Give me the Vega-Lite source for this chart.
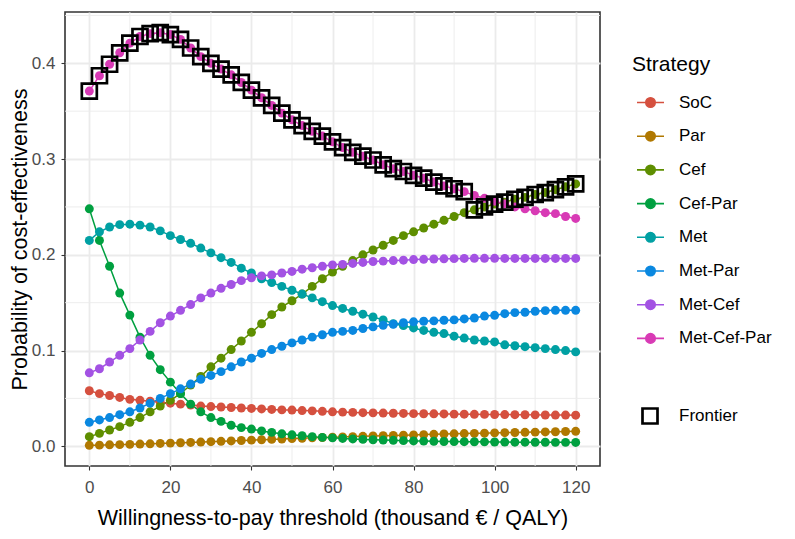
{
  "$schema": "https://vega.github.io/schema/vega-lite/v6.json",
  "width": 535,
  "height": 454,
  "autosize": {"type": "none"},
  "padding": {"left": 65, "top": 12, "right": 195, "bottom": 73},
  "background": "white",
  "config": {
    "font": "Liberation Sans",
    "view": {"stroke": "#333333", "strokeWidth": 1.6},
    "axis": {
      "domain": false,
      "grid": true,
      "gridColor": "#EBEBEB",
      "gridWidth": 1.8,
      "ticks": true,
      "tickColor": "#333333",
      "tickSize": 4,
      "tickWidth": 1.1,
      "labelColor": "#4D4D4D",
      "labelFontSize": 17,
      "labelPadding": 6,
      "titleFontSize": 21.5,
      "titleFontWeight": "normal",
      "titleColor": "black"
    },
    "axisX": {"labelPadding": 9, "titlePadding": 12},
    "axisY": {"titlePadding": 0},
    "legend": {
      "titleFontSize": 21,
      "titleFontWeight": "normal",
      "titleColor": "black",
      "labelFontSize": 17,
      "labelColor": "black",
      "padding": 0
    }
  },
  "datasets": {
    "minorX": [{"v": 10}, {"v": 30}, {"v": 50}, {"v": 70}, {"v": 90}, {"v": 110}],
    "minorY": [{"v": 0.05}, {"v": 0.15}, {"v": 0.25}, {"v": 0.35}, {"v": 0.45}],
    "ceac": [
      {"strategy": "SoC",
       "wtp": [0,2.5,5,7.5,10,12.5,15,17.5,20,22.5,25,27.5,30,32.5,35,37.5,40,42.5,45,47.5,50,52.5,55,57.5,60,62.5,65,67.5,70,72.5,75,77.5,80,82.5,85,87.5,90,92.5,95,97.5,100,102.5,105,107.5,110,112.5,115,117.5,120],
       "p": [0.058,0.055,0.053,0.051,0.049,0.048,0.047,0.046,0.045,0.044,
             0.043,0.042,0.0415,0.041,0.0405,0.040,0.0395,0.039,0.0385,0.038,
             0.0378,0.0373,0.037,0.0365,0.036,0.0357,0.0354,0.0351,0.0349,0.0347,
             0.0345,0.0343,0.0341,0.034,0.0339,0.0338,0.0336,0.0335,0.0334,0.0333,
             0.0332,0.0331,0.033,0.0329,0.0328,0.0327,0.0326,0.0326,0.0325]},
      {"strategy": "Par",
       "wtp": [0,2.5,5,7.5,10,12.5,15,17.5,20,22.5,25,27.5,30,32.5,35,37.5,40,42.5,45,47.5,50,52.5,55,57.5,60,62.5,65,67.5,70,72.5,75,77.5,80,82.5,85,87.5,90,92.5,95,97.5,100,102.5,105,107.5,110,112.5,115,117.5,120],
       "p": [0.001,0.0012,0.0015,0.0017,0.002,0.0023,0.0026,0.003,0.0033,0.0037,
             0.004,0.0044,0.0048,0.0052,0.0056,0.006,0.0064,0.0068,0.0072,0.0076,
             0.008,0.0084,0.0088,0.0091,0.0095,0.0098,0.0101,0.0104,0.0107,0.011,
             0.0113,0.0116,0.0119,0.0122,0.0125,0.0128,0.013,0.0133,0.0135,0.0137,
             0.014,0.0142,0.0144,0.0146,0.0148,0.015,0.0152,0.0154,0.0156]},
      {"strategy": "Cef",
       "wtp": [0,2.5,5,7.5,10,12.5,15,17.5,20,22.5,25,27.5,30,32.5,35,37.5,40,42.5,45,47.5,50,52.5,55,57.5,60,62.5,65,67.5,70,72.5,75,77.5,80,82.5,85,87.5,90,92.5,95,97.5,100,102.5,105,107.5,110,112.5,115,117.5,120],
       "p": [0.010,0.0135,0.017,0.0205,0.025,0.030,0.036,0.042,0.048,0.055,
             0.064,0.073,0.083,0.092,0.101,0.110,0.119,0.128,0.1375,0.1455,
             0.152,0.159,0.167,0.175,0.182,0.188,0.194,0.200,0.205,0.210,
             0.215,0.220,0.224,0.228,0.232,0.236,0.240,0.244,0.247,0.250,
             0.253,0.255,0.258,0.260,0.263,0.265,0.268,0.271,0.274]},
      {"strategy": "Cef-Par",
       "wtp": [0,2.5,5,7.5,10,12.5,15,17.5,20,22.5,25,27.5,30,32.5,35,37.5,40,42.5,45,47.5,50,52.5,55,57.5,60,62.5,65,67.5,70,72.5,75,77.5,80,82.5,85,87.5,90,92.5,95,97.5,100,102.5,105,107.5,110,112.5,115,117.5,120],
       "p": [0.248,0.215,0.188,0.160,0.137,0.114,0.095,0.080,0.067,0.055,
             0.044,0.036,0.030,0.026,0.022,0.0195,0.018,0.016,0.0145,0.013,
             0.012,0.011,0.010,0.0093,0.0088,0.0082,0.0077,0.0072,0.0068,0.0065,
             0.0062,0.0059,0.0056,0.0054,0.0052,0.005,0.0049,0.0048,0.0047,0.0046,
             0.0045,0.0044,0.0043,0.0043,0.0042,0.0042,0.0041,0.0041,0.004]},
      {"strategy": "Met",
       "wtp": [0,2.5,5,7.5,10,12.5,15,17.5,20,22.5,25,27.5,30,32.5,35,37.5,40,42.5,45,47.5,50,52.5,55,57.5,60,62.5,65,67.5,70,72.5,75,77.5,80,82.5,85,87.5,90,92.5,95,97.5,100,102.5,105,107.5,110,112.5,115,117.5,120],
       "p": [0.215,0.224,0.229,0.2315,0.232,0.231,0.229,0.225,0.220,0.216,
             0.212,0.207,0.202,0.197,0.192,0.186,0.181,0.175,0.171,0.167,
             0.163,0.159,0.155,0.151,0.147,0.144,0.141,0.138,0.135,0.132,
             0.128,0.126,0.1236,0.121,0.119,0.1177,0.115,0.113,0.111,0.110,
             0.109,0.106,0.105,0.104,0.103,0.102,0.101,0.100,0.0986]},
      {"strategy": "Met-Par",
       "wtp": [0,2.5,5,7.5,10,12.5,15,17.5,20,22.5,25,27.5,30,32.5,35,37.5,40,42.5,45,47.5,50,52.5,55,57.5,60,62.5,65,67.5,70,72.5,75,77.5,80,82.5,85,87.5,90,92.5,95,97.5,100,102.5,105,107.5,110,112.5,115,117.5,120],
       "p": [0.025,0.0275,0.030,0.033,0.036,0.040,0.045,0.050,0.055,0.060,
             0.065,0.070,0.074,0.078,0.083,0.088,0.092,0.097,0.101,0.1045,
             0.108,0.111,0.114,0.1165,0.119,0.120,0.121,0.123,0.1247,0.1264,
             0.1274,0.129,0.130,0.1306,0.131,0.1316,0.132,0.133,0.134,0.136,
             0.1368,0.1385,0.1396,0.140,0.141,0.1417,0.142,0.142,0.142]},
      {"strategy": "Met-Cef",
       "wtp": [0,2.5,5,7.5,10,12.5,15,17.5,20,22.5,25,27.5,30,32.5,35,37.5,40,42.5,45,47.5,50,52.5,55,57.5,60,62.5,65,67.5,70,72.5,75,77.5,80,82.5,85,87.5,90,92.5,95,97.5,100,102.5,105,107.5,110,112.5,115,117.5,120],
       "p": [0.0767,0.081,0.088,0.095,0.102,0.111,0.120,0.129,0.136,0.142,
             0.148,0.155,0.160,0.165,0.169,0.173,0.176,0.178,0.179,0.181,
             0.1826,0.185,0.1865,0.188,0.1895,0.190,0.191,0.192,0.193,0.1934,
             0.194,0.1944,0.195,0.1953,0.1956,0.1958,0.196,0.1962,0.1963,0.1963,
             0.1963,0.1962,0.1962,0.1962,0.1962,0.1962,0.1962,0.1962,0.1962]},
      {"strategy": "Met-Cef-Par",
       "wtp": [0,2.5,5,7.5,10,12.5,15,17.5,20,22.5,25,27.5,30,32.5,35,37.5,40,42.5,45,47.5,50,52.5,55,57.5,60,62.5,65,67.5,70,72.5,75,77.5,80,82.5,85,87.5,90,92.5,95,97.5,100,102.5,105,107.5,110,112.5,115,117.5,120],
       "p": [0.371,0.387,0.399,0.411,0.421,0.428,0.431,0.432,0.430,0.425,
             0.416,0.407,0.400,0.394,0.388,0.380,0.372,0.364,0.356,0.348,
             0.341,0.335,0.329,0.324,0.318,0.312,0.307,0.303,0.299,0.294,
             0.290,0.287,0.283,0.280,0.276,0.272,0.269,0.266,0.262,0.259,
             0.256,0.253,0.250,0.248,0.246,0.244,0.243,0.240,0.238]}
    ]
  },
  "layer": [
    {
      "data": {"name": "minorX"},
      "mark": {"type": "rule", "color": "#EBEBEB", "strokeWidth": 0.9},
      "encoding": {
        "x": {"field": "v", "type": "quantitative", "scale": {"domain": [-6, 126], "nice": false, "zero": false},
              "axis": {"values": [0, 20, 40, 60, 80, 100, 120]},
              "title": "Willingness-to-pay threshold (thousand € / QALY)"}
      }
    },
    {
      "data": {"name": "minorY"},
      "mark": {"type": "rule", "color": "#EBEBEB", "strokeWidth": 0.9},
      "encoding": {
        "y": {"field": "v", "type": "quantitative", "scale": {"domain": [-0.0206, 0.4536], "nice": false, "zero": false},
              "axis": {"values": [0, 0.1, 0.2, 0.3, 0.4], "format": ".1f"},
              "title": "Probability of cost-effectiveness"}
      }
    },
    {
      "data": {"name": "ceac"},
      "transform": [{"flatten": ["wtp", "p"]}],
      "encoding": {
        "x": {"field": "wtp", "type": "quantitative", "scale": {"domain": [-6, 126], "nice": false, "zero": false},
              "axis": {"values": [0, 20, 40, 60, 80, 100, 120]},
              "title": "Willingness-to-pay threshold (thousand € / QALY)"},
        "y": {"field": "p", "type": "quantitative", "scale": {"domain": [-0.0206, 0.4536], "nice": false, "zero": false},
              "axis": {"values": [0, 0.1, 0.2, 0.3, 0.4], "format": ".1f"},
              "title": "Probability of cost-effectiveness"},
        "color": {
          "field": "strategy", "type": "nominal",
          "scale": {
            "domain": ["SoC", "Par", "Cef", "Cef-Par", "Met", "Met-Par", "Met-Cef", "Met-Cef-Par"],
            "range": ["#D5503F", "#B07800", "#5E8E00", "#00A040", "#00A0A3", "#0A88E0", "#A352E3", "#D83AB5"]
          },
          "legend": {
            "title": "Strategy",
            "orient": "none",
            "legendX": 567,
            "legendY": 42,
            "symbolType": "M-1,0H1M0.35,0A0.35,0.35,0,1,1,-0.35,0A0.35,0.35,0,1,1,0.35,0Z",
            "symbolSize": 729,
            "symbolStrokeWidth": 1.6,
            "symbolOffset": 4,
            "labelOffset": 14,
            "rowPadding": 10.7,
            "titlePadding": 13,
            "encode": {
              "symbols": {
                "update": {
                  "fill": {"scale": "color", "field": "value"},
                  "stroke": {"scale": "color", "field": "value"},
                  "opacity": {"value": 1}
                }
              }
            }
          }
        }
      },
      "layer": [
        {"mark": {"type": "line", "strokeWidth": 1.5}},
        {"mark": {"type": "point", "filled": true, "size": 80, "opacity": 1, "strokeWidth": 0}}
      ]
    },
    {
      "data": {"name": "ceac"},
      "transform": [
        {"flatten": ["wtp", "p"]},
        {"filter": "(datum.strategy === 'Met-Cef-Par' && datum.wtp <= 92.5) || (datum.strategy === 'Cef' && datum.wtp >= 95)"}
      ],
      "mark": {"type": "point", "filled": false, "stroke": "black", "strokeWidth": 2.7, "size": 225, "opacity": 1},
      "encoding": {
        "x": {"field": "wtp", "type": "quantitative", "scale": {"domain": [-6, 126], "nice": false, "zero": false},
              "axis": {"values": [0, 20, 40, 60, 80, 100, 120]},
              "title": "Willingness-to-pay threshold (thousand € / QALY)"},
        "y": {"field": "p", "type": "quantitative", "scale": {"domain": [-0.0206, 0.4536], "nice": false, "zero": false},
              "axis": {"values": [0, 0.1, 0.2, 0.3, 0.4], "format": ".1f"},
              "title": "Probability of cost-effectiveness"},
        "shape": {
          "datum": "Frontier",
          "scale": {"range": ["square"]},
          "legend": {
            "title": null,
            "orient": "none",
            "legendX": 567,
            "legendY": 395,
            "symbolSize": 225,
            "symbolStrokeColor": "black",
            "symbolFillColor": "transparent",
            "symbolStrokeWidth": 2.7,
            "symbolOffset": 9,
            "labelOffset": 20
          }
        }
      }
    }
  ]
}
